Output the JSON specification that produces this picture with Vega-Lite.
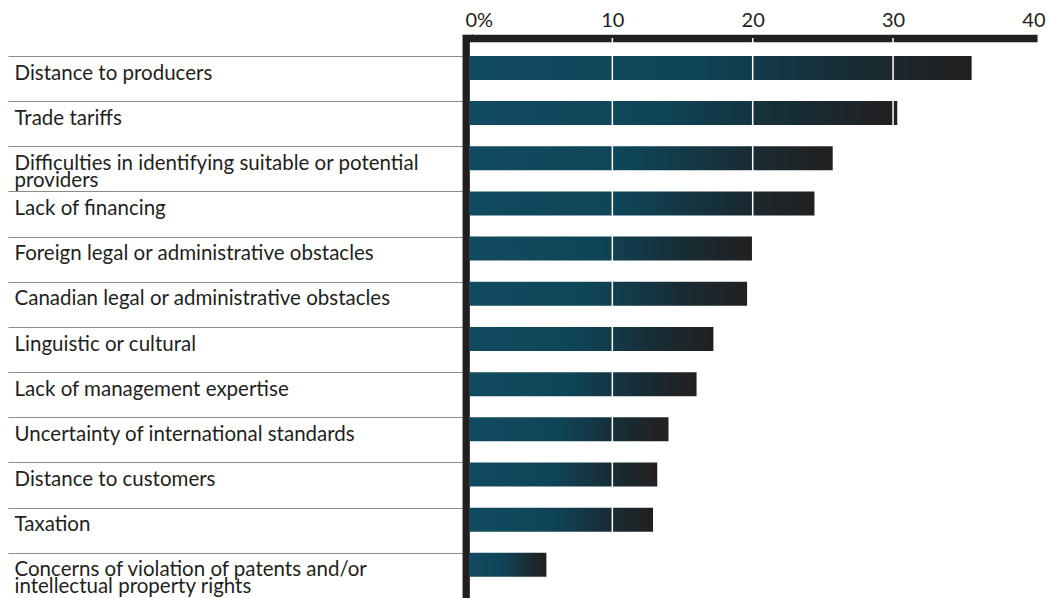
{
  "$schema": "https://vega.github.io/schema/vega-lite/v6.json",
  "autosize": "none",
  "width": 561.4,
  "height": 560,
  "padding": {"left": 472, "top": 38, "right": 15.6, "bottom": 0},
  "background": "white",
  "config": {"view": {"stroke": null}},
  "data": {
    "values": [
      {"obstacle": "Distance to producers", "pct": 35.6},
      {"obstacle": "Trade tariffs", "pct": 30.3},
      {"obstacle": "Difficulties in identifying suitable or potential|providers", "pct": 25.7},
      {"obstacle": "Lack of financing", "pct": 24.4},
      {"obstacle": "Foreign legal or administrative obstacles", "pct": 20.0},
      {"obstacle": "Canadian legal or administrative obstacles", "pct": 19.6},
      {"obstacle": "Linguistic or cultural", "pct": 17.2},
      {"obstacle": "Lack of management expertise", "pct": 16.0},
      {"obstacle": "Uncertainty of international standards", "pct": 14.0},
      {"obstacle": "Distance to customers", "pct": 13.2},
      {"obstacle": "Taxation", "pct": 12.9},
      {"obstacle": "Concerns of violation of patents and/or|intellectual property rights", "pct": 5.3}
    ]
  },
  "layer": [
    {
      "mark": {
        "type": "bar",
        "height": 24,
        "yOffset": -10.6,
        "x2Offset": -2.7,
        "color": {
          "gradient": "linear",
          "x1": 0, "x2": 1, "y1": 0, "y2": 0,
          "stops": [
            {"offset": 0, "color": "#114b61"},
            {"offset": 0.45, "color": "#0f4457"},
            {"offset": 0.75, "color": "#172d36"},
            {"offset": 1, "color": "#231f20"}
          ]
        }
      },
      "encoding": {
        "y": {
          "field": "obstacle",
          "type": "nominal",
          "sort": null,
          "scale": {"paddingInner": 0, "paddingOuter": 0.1988, "align": 1},
          "axis": {
            "title": null,
            "orient": "left",
            "offset": 6.3,
            "domain": true,
            "domainColor": "#231f20",
            "domainWidth": 7.3,
            "domainCap": "square",
            "ticks": true,
            "tickBand": "extent",
            "tickColor": "#8c8c8c",
            "tickWidth": 1.2,
            "tickSize": 457.7,
            "labelAlign": "left",
            "labelBaseline": "alphabetic",
            "labelPadding": -6,
            "labelOffset": 0.5,
            "labelLimit": 600,
            "labelFont": "Lato",
            "labelFontSize": 20.5,
            "labelLineHeight": 17,
            "labelColor": "#231f20",
            "labelExpr": "split(datum.label, '|')"
          }
        },
        "x": {
          "field": "pct",
          "type": "quantitative",
          "scale": {"domain": [0, 40], "nice": false},
          "axis": {
            "title": null,
            "orient": "top",
            "values": [0, 10, 20, 30, 40],
            "grid": false,
            "domain": true,
            "domainColor": "#231f20",
            "domainWidth": 7.3,
            "domainCap": "square",
            "ticks": true,
            "tickSize": 4,
            "tickWidth": 1.5,
            "tickColor": {"condition": {"test": "datum.value == 0", "value": "#231f20"}, "value": "white"},
            "labelFlush": false,
            "labelFont": "Lato",
            "labelFontSize": 20,
            "labelColor": "#231f20",
            "labelPadding": 4,
            "labelAlign": {"condition": {"test": "datum.value == 0", "value": "left"}, "value": "center"},
            "labelOffset": {"condition": {"test": "datum.value == 0", "value": -7}, "value": 0},
            "labelExpr": "datum.value == 0 ? '0%' : datum.label"
          }
        },
        "x2": {"datum": 0}
      }
    },
    {
      "data": {"values": [{"v": 10}, {"v": 20}, {"v": 30}]},
      "mark": {"type": "rule", "color": "white", "strokeWidth": 1.5},
      "encoding": {
        "x": {"field": "v", "type": "quantitative"}
      }
    }
  ]
}
